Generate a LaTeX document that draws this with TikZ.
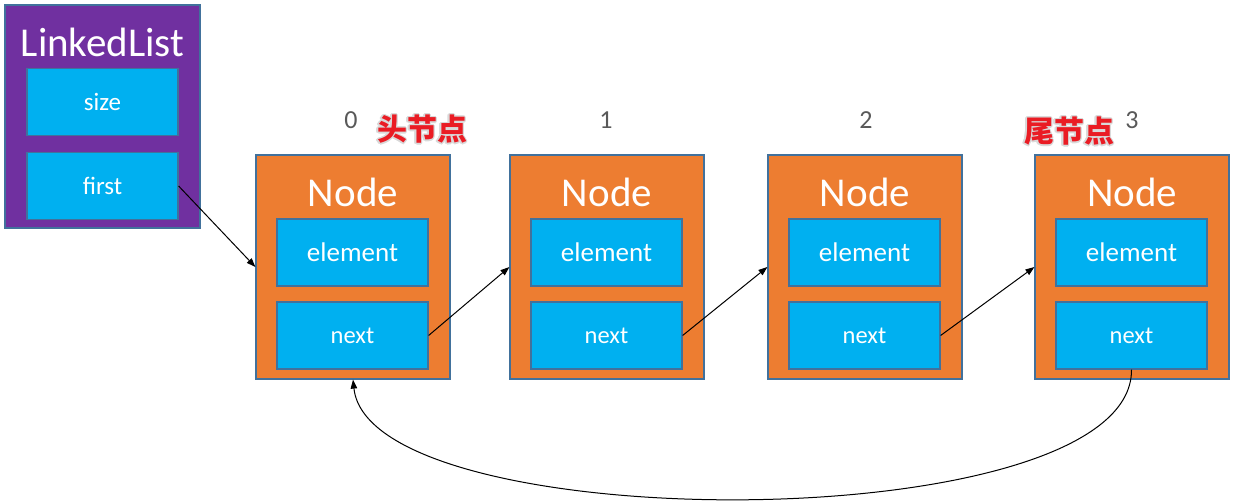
\documentclass[tikz,border=0pt]{standalone}
\usepackage{fontspec}
\setmainfont{Carlito}
\newfontfamily\cjk{Noto Sans CJK SC}
\usepackage{contour}
\contourlength{1.2pt}
\usetikzlibrary{arrows.meta}
\definecolor{purp}{HTML}{7030A0}
\definecolor{sky}{HTML}{00B0F0}
\definecolor{orng}{HTML}{ED7D31}
\definecolor{edgec}{HTML}{41719C}
\definecolor{numc}{HTML}{595959}
\definecolor{redc}{HTML}{EA1C24}
\begin{document}
\begin{tikzpicture}[x=1pt,y=-1pt,
  outerbox/.style={draw=edgec,line width=1.2pt,minimum width=194pt,minimum height=224pt,inner sep=0pt,fill=orng},
  listbox/.style={draw=edgec,line width=1.2pt,minimum width=195pt,minimum height=223pt,inner sep=0pt,fill=purp},
  field/.style={draw=edgec,line width=1.2pt,fill=sky,minimum width=151pt,minimum height=67pt,inner sep=0pt,text=white,font=\fontsize{24.5}{24.5}\selectfont},
  elemfield/.style={field,font=\fontsize{27}{27}\selectfont},
  titletext/.style={text=white,inner sep=0pt,font=\fontsize{41}{41}\selectfont},
  numtext/.style={text=numc,inner sep=0pt,font=\fontsize{26}{26}\selectfont},
  cjktext/.style={text=redc,inner sep=0pt,font=\cjk\bfseries\fontsize{30}{30}\selectfont},
  link/.style={draw=black,line width=1pt,-{Triangle[length=9pt,width=6.5pt]}}
]
\useasboundingbox (0,0) rectangle (1236,503);
% LinkedList
\node[listbox] (ll) at (102.5,116.5) {};
\node[titletext] (lltitle) at (102.5,42) {LinkedList};
\node[field,font=\fontsize{25}{25}\selectfont] (size) at (102.5,102) {size};
\node[field,font=\fontsize{25}{25}\selectfont] (first) at (102.5,186) {first};
% Nodes
\foreach \i/\L/\nx in {0/256/351,1/510/606,2/768/866,3/1035/1132}{
  \node[outerbox] (n\i) at (\L+97,267) {};
  \node[titletext] (t\i) at (\L+97,192) {Node};
  \node[elemfield] (e\i) at (\L+96.5,252.5) {element};
  \node[field] (x\i) at (\L+96.5,335.5) {next};
  \node[numtext] (num\i) at (\nx,120) {\i};
}
\node[cjktext] (head) at (422,130) {\contour{gray!30}{头节点}};
\node[cjktext] (tail) at (1069,132) {\contour{gray!30}{尾节点}};
% connectors
\draw[link] (first.east) -- (n0.west);
\draw[link] (x0.east) -- (n1.west);
\draw[link] (x1.east) -- (n2.west);
\draw[link] (x2.east) -- (n3.west);
\draw[link] (x3.south) .. controls (1133,540) and (370,540) .. (n0.south);
\end{tikzpicture}
\end{document}
